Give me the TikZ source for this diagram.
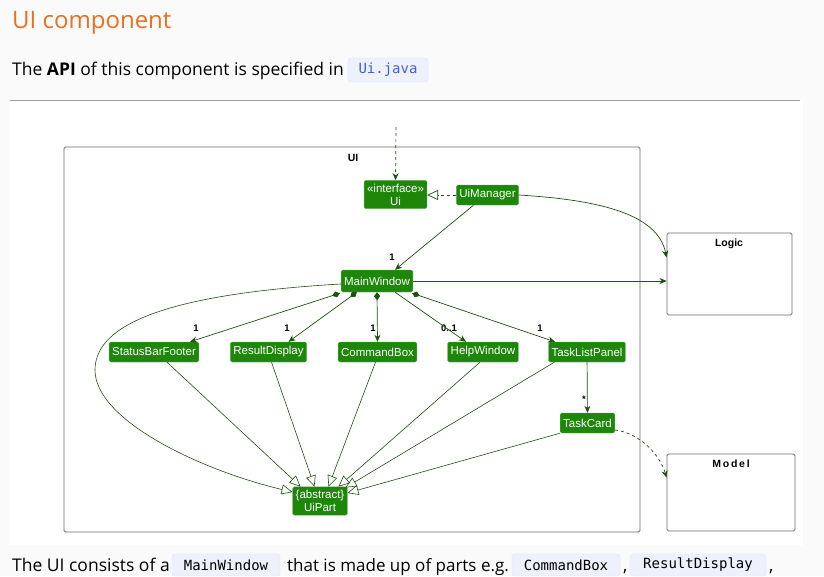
\documentclass[tikz,border=0pt]{standalone}
\usepackage{fontspec}
\setmainfont{Open Sans}
\setmonofont{DejaVu Sans Mono}
\newfontfamily\umlfont{Liberation Sans}
\usetikzlibrary{calc,positioning,arrows.meta}
\definecolor{UiGreen}{RGB}{30,135,10}
\definecolor{UiEdge}{RGB}{30,80,20}
\definecolor{UiFrame}{RGB}{110,110,110}
\definecolor{UiHead}{RGB}{232,112,36}
\definecolor{UiCode}{RGB}{238,240,252}
\definecolor{UiCodeLine}{RGB}{222,226,245}
\definecolor{UiCodeText}{RGB}{60,100,210}
\definecolor{UiRule}{RGB}{160,160,160}
\definecolor{UiPage}{RGB}{250,250,250}

\begin{document}
\begin{tikzpicture}[x=1pt,y=-1pt,
  cls/.style={fill=UiGreen,draw=UiGreen!70!white,rounded corners=1.5pt,text=white,
    font=\umlfont\fontsize{11.5}{13}\selectfont,inner xsep=3pt,inner ysep=0pt,
    minimum height=20pt,align=center},
  pkg/.style={draw=UiFrame,line width=0.9pt,rounded corners=1.5pt},
  pkgname/.style={font=\umlfont\bfseries\fontsize{10.5}{12}\selectfont,inner sep=0pt},
  assoc/.style={UiEdge,line width=0.7pt,-{Stealth[length=7pt,width=6pt]}},
  comp/.style={UiEdge,line width=0.7pt,{Diamond[length=8pt,width=6pt]}-{Stealth[length=7pt,width=6pt]}},
  inherit/.style={UiEdge,line width=0.6pt,-{Triangle[open,length=11pt,width=10pt]}},
  mult/.style={text=black,font=\umlfont\bfseries\fontsize{9.5}{10}\selectfont,inner sep=0pt},
  code/.style={fill=UiCode,draw=UiCodeLine,rounded corners=3pt,inner sep=0pt,
    font=\ttfamily\fontsize{14}{16}\selectfont,minimum height=24pt},
  prose/.style={anchor=base west,inner sep=0pt,font=\fontsize{17.5}{20}\selectfont}
]
  % page and picture area
  \fill[UiPage] (0,0) rectangle (824,576);
  \useasboundingbox (0,0) rectangle (824,576);
  \fill[white] (10,100) rectangle (803,545);

  % page text
  \node[anchor=base west,inner sep=0pt,text=UiHead,font=\fontsize{24}{28}\selectfont] (title) at (12,28) {UI component};
  \node[prose] (apiline) at (12,75) {The \textbf{API} of this component is specified in};
  \node[code,text=UiCodeText,minimum width=80pt] (apicode) at (388,70) {Ui.java};
  \draw[UiRule,line width=1pt] (10,100) -- (800,100);

  % packages
  \node[pkg,minimum width=576pt,minimum height=385pt] (uipkg) at (352,339.5) {};
  \node[pkgname] (uiname) at (353,158) {UI};
  \node[pkg,minimum width=125pt,minimum height=82pt] (logic) at (729.5,274) {};
  \node[pkgname] (logicname) at (729,244) {Logic};
  \node[pkg,minimum width=128pt,minimum height=77pt] (model) at (731,492.5) {};
  \node[pkgname] (modelname) at (731,464) {M\,o\,d\,e\,l};

  % classes
  \node[cls,inner ysep=3.5pt] (ui) at (395.5,194.5) {«interface»\\Ui};
  \node[cls] (uimgr) at (487.5,195) {UiManager};
  \node[cls,minimum height=22pt] (mainwin) at (377,281) {MainWindow};
  \foreach \nm/\x/\txt in {status/154/StatusBarFooter, result/268.5/ResultDisplay,
      command/377.5/CommandBox, help/483/HelpWindow, tasklist/587/TaskListPanel}
    \node[cls] (\nm) at (\x,352) {\txt};
  \node[cls] (taskcard) at (587.5,423) {TaskCard};
  \node[cls,inner ysep=3.5pt] (uipart) at (320,501) {\{abstract\}\\UiPart};

  % multiplicities
  \node[mult] (m1) at (392,257) {1};
  \node[mult] (m2) at (196,328) {1};
  \node[mult] (m3) at (287,328) {1};
  \node[mult] (m4) at (373,328) {1};
  \node[mult] (m5) at (449,328) {0..1};
  \node[mult] (m6) at (540,328) {1};
  \node[mult] (m7) at (584,399) {*};

  % api and logic
  \coordinate (uiapi) at (396,127);
  \draw[UiEdge,line width=0.7pt,dashed,-{Stealth[length=7pt,width=6pt]}] (uiapi) -- (ui.north);
  \draw[UiEdge,line width=0.7pt,dashed,-{Triangle[open,length=11pt,width=10pt]}] (uimgr.west) -- (ui.east |- uimgr.west);
  \draw[assoc] (uimgr.east) .. controls (600,200) and (658,214) .. ($(logic.north west)+(0,25)$);
  \draw[assoc] ($(uimgr.south)+(-14,0)$) -- ($(mainwin.north)+(18,0)$);
  \draw[assoc] (mainwin.east) -- (mainwin.east -| logic.west);

  % parts of the main window
  \draw[comp] ($(mainwin.south west)+(-1,1)$) -- ($(status.north)+(36,0)$);
  \draw[comp] ($(mainwin.south west)!0.22!(mainwin.south east)$) -- ($(result.north)+(20,0)$);
  \draw[comp] (mainwin.south) -- (command.north);
  \draw[assoc] ($(mainwin.south)+(18,0)$) -- ($(help.north)+(-17,0)$);
  \draw[comp] ($(mainwin.south east)+(-1,1)$) -- ($(tasklist.north)+(-32,0)$);
  \draw[assoc] (tasklist) -- (taskcard);
  \draw[assoc,dashed] ($(taskcard.east)+(0,7)$) .. controls (640,433) and (660,455) .. ($(model.north west)+(0,24)$);

  % all parts extend UiPart
  \draw[inherit] ($(status.south)+(13,0)$) -- ($(uipart.north west)+(8,0)$);
  \draw[inherit] ($(result.south)+(3,0)$) -- ($(uipart.north west)+(22,0)$);
  \draw[inherit] ($(command.south)+(-2,0)$) -- ($(uipart.north west)+(36,0)$);
  \draw[inherit] ($(help.south)+(-3,0)$) -- ($(uipart.north west)+(46,0)$);
  \draw[inherit] ($(tasklist.south west)+(6,0)$) -- ($(uipart.north east)+(-2,1)$);
  \draw[inherit] (taskcard.south west) -- ($(uipart.east)+(0,-8)$);
  \draw[inherit] ($(mainwin.west)+(0,3)$) .. controls (150,295) and (95,330) .. (95,370)
    .. controls (95,420) and (200,470) .. ($(uipart.west)+(0,-9)$);

  % text below the picture
  \node[prose] (partsline) at (12,571) {The UI consists of a};
  \node[code,minimum width=108pt,minimum height=22pt] (mwcode) at (226,565) {MainWindow};
  \node[prose,font=\fontsize{17}{20}\selectfont] (partsmid) at (287,571) {that is made up of parts e.g.};
  \node[code,minimum width=108pt,minimum height=22pt] (cbcode) at (566,565) {CommandBox};
  \node[prose] (comma1) at (623,571) {,};
  \node[code,minimum width=136pt,minimum height=22pt] (rdcode) at (698,565) {ResultDisplay};
  \node[prose] (comma2) at (769,571) {,};
\end{tikzpicture}
\end{document}
